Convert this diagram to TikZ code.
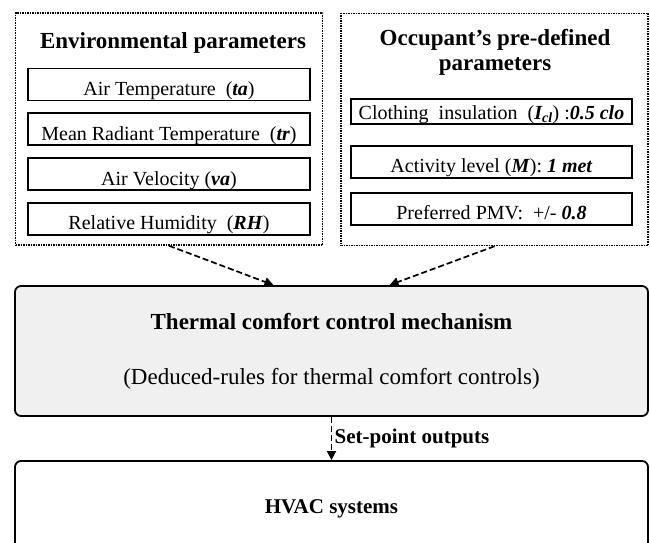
\documentclass[tikz,border=0pt]{standalone}
\usepackage{fontspec}
\setmainfont{Liberation Serif}
\usepackage{tikz}
\usetikzlibrary{positioning}
\usetikzlibrary{arrows.meta}
\tikzstyle{group} = [draw,densely dotted,line width=1.5pt,minimum width=307pt,minimum height=232pt]
\tikzstyle{param} = [draw,line width=1.8pt,minimum width=282pt,minimum height=32pt,inner ysep=0pt,text height=22pt,text depth=0pt,font=\fontsize{20}{24}\selectfont]
\tikzstyle{block} = [draw,line width=1.8pt,rounded corners=6pt,minimum width=633pt]
\tikzstyle{arrow} = [line width=1.7pt,dash pattern=on 6pt off 3pt,-{Triangle[length=9pt,width=9pt]}]
\newcommand{\bi}[1]{\textbf{\textit{#1}}}

\begin{document}
\begin{tikzpicture}[x=1pt,y=-1pt]
	\useasboundingbox (0,0) rectangle (650,543);
	\clip (0,0) rectangle (650,543);
	
	%Groups
	\node (envbox) [group] at (169,129) {};
	\node (occbox) [group] at (494.5,129.5) {};
	\node (envtitle) [font=\fontsize{23}{27}\selectfont\bfseries] at (173,42.5) {Environmental parameters};
	\node (occtitle) [font=\fontsize{23}{25}\selectfont\bfseries,align=center] at (495,52.5) {Occupant’s pre-defined\\parameters};
	
	%Environmental parameters
	\node (ta) [param] at (169,84.5) {Air Temperature~ (\bi{ta})};
	\node (tr) [param,below=11pt of ta] {Mean Radiant Temperature~ (\bi{tr})};
	\node (va) [param,below=11pt of tr] {Air Velocity (\bi{va})};
	\node (rh) [param,below=11pt of va] {Relative Humidity~ (\bi{RH})};
	
	%Occupant parameters
	\node (icl) [param,minimum width=281pt,minimum height=25pt,text height=15pt] at (491.5,111.5) {Clothing~ insulation~ (\bi{I\textsubscript{cl}}) :\bi{0.5 clo}};
	\node (met) [param,minimum width=281pt,below=20pt of icl] {Activity level (\bi{M}): \bi{1 met}};
	\node (pmv) [param,minimum width=281pt,below=13pt of met] {Preferred PMV:~ +/- \bi{0.8}};
	
	%Blocks
	\node (ctrl) [block,fill=black!6,minimum height=130pt,align=center,font=\fontsize{23}{27}\selectfont] at (331.5,351) {\textbf{Thermal comfort control mechanism}\\[28pt](Deduced-rules for thermal comfort controls)};
	\node (hvac) [block,minimum height=96pt,font=\fontsize{21}{25}\selectfont\bfseries] at (331.5,509) {HVAC systems};
	
	%Lines
	\draw[arrow] (envbox.south) -- ([xshift=-58pt]ctrl.north);
	\draw[arrow] (occbox.south) -- ([xshift=58pt]ctrl.north);
	\draw[arrow] (ctrl.south) -- node[right,xshift=-1pt,font=\fontsize{21}{25}\selectfont\bfseries]{Set-point outputs} (hvac.north);
	
\end{tikzpicture}
\end{document}
